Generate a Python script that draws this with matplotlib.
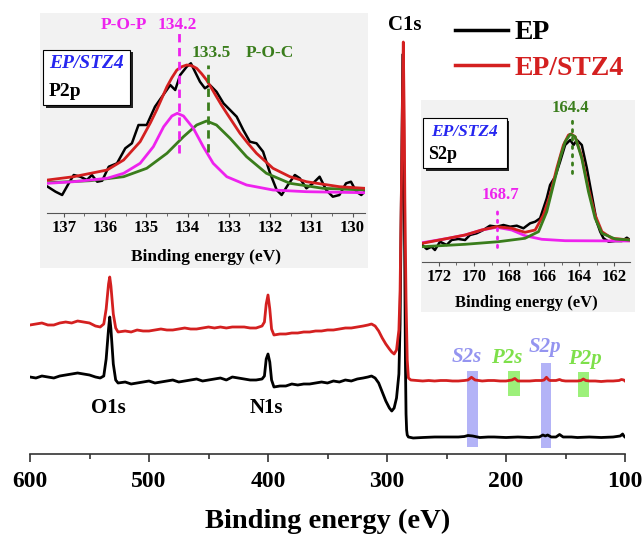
import matplotlib
matplotlib.use("Agg")
import matplotlib.pyplot as plt
from matplotlib.patches import Rectangle
from matplotlib.ticker import MultipleLocator

# ---- survey spectra (binding energy eV, intensity a.u.) ----
be_ep = [600, 595, 590, 585, 580, 575, 570, 565, 560, 555, 550, 545, 541, 538, 536, 534, 533, 532, 530, 528,
         526, 520, 515, 510, 505, 500, 495, 490, 485, 480, 475, 470, 465, 460, 455, 450, 445, 440, 435, 430,
         425, 420, 415, 410, 405, 403, 401.5, 400, 398.5, 397, 395, 390, 385, 380, 375, 370, 365, 360, 355, 350,
         345, 340, 335, 330, 325, 320, 316, 313, 310, 307, 304, 301, 298, 296, 294, 292, 290, 289, 288,
         287, 286.5, 286, 285, 284.5, 284, 283.5, 283, 282, 278, 270, 260, 250, 240, 235, 232, 228, 222, 215, 210, 200,
         190, 180, 172, 169, 167, 165, 162, 158, 155, 152, 145, 140, 130, 120, 110, 104, 102, 101, 100]
int_ep = [77, 76, 78, 77, 76, 78, 79, 80, 81, 80, 79, 77, 76, 78, 95, 125, 137, 125, 90, 74,
          71, 72, 70, 71, 72, 73, 71, 72, 73, 74, 72, 73, 74, 75, 73, 74, 75, 76, 74, 77,
          76, 75, 74, 74, 75, 78, 95, 100, 92, 74, 67, 68, 68, 70, 69, 70, 70, 71, 72, 71,
          73, 72, 74, 73, 75, 76, 77, 78, 76, 71, 62, 53, 46, 43, 46, 56, 80, 130, 250,
          360, 400, 330, 180, 90, 40, 24, 19, 17, 16, 16.5, 17, 17, 17, 17.5, 18.5, 18, 16.5, 17, 17, 16.5,
          17, 16.5, 17, 19, 18, 19, 17, 17, 19.5, 17, 17, 16.5, 17, 16.5, 17, 18, 20, 18, 17]

be_stz = [600, 595, 590, 585, 580, 575, 570, 565, 560, 555, 550, 545, 541, 538, 536, 534, 533, 532, 530, 528,
          526, 520, 515, 510, 505, 500, 495, 490, 485, 480, 475, 470, 465, 460, 455, 450, 445, 440, 435, 430,
          425, 420, 415, 410, 405, 403, 401.5, 400, 398.5, 397, 395, 390, 385, 380, 375, 370, 365, 360, 355, 350,
          345, 340, 335, 330, 325, 320, 316, 313, 310, 307, 304, 301, 298, 296, 294, 292, 290, 289, 288, 287,
          286.3, 285.5, 285, 284, 283, 282, 280, 275, 270, 265, 260, 255, 250, 245, 240, 235, 232, 229, 226, 220,
          215, 210, 205, 200, 195, 192.6, 190, 185, 180, 175, 170, 168, 166, 164, 163, 158, 155, 153, 150, 145,
          140, 137, 135, 133, 130, 125, 120, 115, 110, 105, 103, 101, 100]
int_stz = [129, 130, 131, 129, 129, 131, 132, 131, 133, 132, 131, 128, 127, 130, 145, 170, 177, 168, 140, 126,
           122, 123, 122, 124, 123, 123, 124, 125, 124, 124, 125, 126, 125, 125, 126, 127, 126, 127, 126, 127,
           127, 127, 126, 126, 128, 132, 150, 159, 145, 125, 119, 120, 120, 121, 121, 122, 122, 123, 123, 124,
           124, 125, 126, 126, 127, 128, 129, 130, 128, 123, 116, 110, 105, 102, 100, 104, 124, 164, 254, 354,
           412, 334, 254, 154, 94, 76, 74, 73.5, 73, 73.5, 73, 73.5, 73.5, 73, 73, 73.5, 74, 76.7, 74, 73,
           73.5, 73.5, 73, 73, 74, 75.5, 73, 73, 73, 73.5, 73.5, 74, 76.7, 74, 73.5, 73.5, 74.5, 73.5, 73, 73,
           73, 73.5, 75, 73.5, 73, 73, 72.5, 73, 73, 73.5, 74.5, 74, 73]

# highlighted regions in the survey
band_labels = ["S2s", "P2s", "S2p", "P2p"]
band_lo = [223.6, 188.5, 162.0, 130.5]
band_hi = [233.0, 198.0, 171.0, 139.8]
band_bottom = [7.3, 58.0, 6.3, 56.7]
band_top = [83.3, 83.0, 91.3, 82.3]
band_text_x = [233, 199.4, 167.2, 133.6]
band_text_y = [97, 96, 107, 94.7]

# ---- P2p high resolution (EP/STZ4) ----
p2p_be_raw = [137.39, 137.2, 137.04, 136.88, 136.76, 136.6, 136.44, 136.32, 136.19, 136.07, 135.91, 135.71,
              135.51, 135.35, 135.19, 134.99, 134.79, 134.62, 134.42, 134.3, 134.18, 134.02, 133.92, 133.82,
              133.7, 133.58, 133.46, 133.3, 133.13, 132.97, 132.81, 132.65, 132.49, 132.33, 132.17, 132.0,
              131.84, 131.72, 131.57, 131.4, 131.28, 131.12, 130.96, 130.8, 130.64, 130.48, 130.32, 130.16,
              130.04, 129.91, 129.79, 129.71]
p2p_raw = [26, 21, 17.7, 29.4, 37.7, 36, 32.7, 37.7, 31, 32, 46, 49.4, 64.4, 69.4, 87.7, 87.7, 106, 116,
           127.7, 122.7, 137.7, 146, 149.4, 141, 131, 124.4, 127.7, 121, 109.4, 102.7, 96, 82.7, 71, 69.4,
           61, 39.4, 22.7, 17.7, 27.7, 37.7, 34.4, 24.4, 29.4, 36, 22.7, 16, 17.7, 29.4, 31, 21, 17.7, 21]
p2p_be_fit = [137.39, 136.76, 135.95, 135.55, 135.15, 134.9, 134.75, 134.5, 134.38, 134.26, 134.14, 134.02,
              133.9, 133.78, 133.66, 133.54, 133.42, 133.3, 133.18, 133.05, 132.9, 132.73, 132.53, 132.33,
              131.93, 131.52, 131.12, 130.32, 129.71]
p2p_fit = [32.7, 36, 42.7, 52.7, 71, 90, 102.7, 126, 135, 142.7, 146, 147.7, 147, 144.4, 139, 132.7, 124.5,
           116, 107.7, 99.4, 90, 79.4, 69, 59.4, 44.4, 36, 31, 26, 24.4]
pop_be = [137.39, 136.76, 135.95, 135.55, 135.15, 134.83, 134.58, 134.38, 134.25, 134.1, 133.86, 133.62,
          133.38, 133.05, 132.57, 131.93, 131.12, 129.71]
pop = [29.4, 31, 34.4, 39.4, 49.4, 66, 86, 96.7, 99.4, 96.7, 84.4, 66, 49.4, 36, 27.7, 22.7, 21, 20]
poc_be = [137.39, 136.36, 135.55, 134.99, 134.5, 134.1, 133.78, 133.54, 133.3, 132.97, 132.57, 132.09,
          131.52, 130.72, 129.71]
poc = [30, 32, 36, 44.4, 59.4, 76, 87.7, 91.7, 87.7, 74.4, 56, 39.4, 29.4, 24.4, 22.7]
p2p_peaks = [134.2, 133.5]
p2p_mark_lo = [59.4, 61]
p2p_mark_hi = [179.4, 147.7]

# ---- S2p high resolution (EP/STZ4) ----
s2p_be_raw = [172.95, 172.7, 172.42, 172.23, 171.94, 171.56, 171.28, 170.9, 170.51, 170.23, 169.85, 169.47,
              169.09, 168.7, 168.32, 167.94, 167.56, 167.18, 166.8, 166.51, 166.23, 166.04, 165.85, 165.66,
              165.37, 165.09, 164.8, 164.51, 164.32, 164.13, 163.85, 163.56, 163.28, 163.0, 162.8, 162.61,
              162.32, 161.94, 161.56, 161.28, 161.09]
s2p_raw = [16.7, 12.7, 15, 11.7, 20, 16.7, 21.7, 22.7, 21.7, 26.7, 28.4, 31.7, 36, 35, 36.7, 35, 36, 33.4,
           38.4, 40, 43.4, 53.4, 63.4, 76.7, 85, 100, 116.7, 121.7, 116.7, 121.7, 116.7, 93.4, 66.7, 40, 30,
           23.4, 20, 20.7, 20.7, 24, 21.7]
s2p_be_fit = [172.95, 171.47, 170.51, 169.56, 168.7, 167.85, 167.09, 166.51, 166.04, 165.66, 165.28, 164.9,
              164.61, 164.46, 164.23, 163.85, 163.47, 163.09, 162.7, 162.13, 161.09]
s2p_fit = [18.4, 23.4, 26.7, 31.7, 35, 33.4, 29.4, 31.7, 46.7, 66.7, 93.4, 116.7, 126.7, 127.7, 125, 105,
           73.4, 46.7, 30, 23.4, 21.7]
sox_be = [172.95, 171.47, 170.51, 169.56, 168.7, 167.85, 167.09, 166.13, 164.8, 161.09]
sox = [19, 23.4, 26.7, 31.7, 34.4, 31.7, 26, 22.4, 21, 20.7]
sc_be = [172.95, 170.51, 168.61, 167.09, 166.32, 165.85, 165.47, 165.09, 164.8, 164.51, 164.23, 163.85,
         163.47, 163.09, 162.7, 161.94, 161.09]
sc = [15, 17.4, 20, 23.4, 30, 50, 76.7, 103.4, 120, 127.4, 125, 103.4, 70, 43.4, 28.4, 22.7, 21.7]
s2p_peaks = [164.4, 168.7]
s2p_mark_lo = [88.4, 15]
s2p_mark_hi = [141.7, 55]

RED = "#d42020"
MAG = "#ee22ee"
GRN = "#3a7d1c"
BLUE = "#2626f0"

plt.rcParams["font.family"] = "Liberation Serif"
plt.rcParams["font.weight"] = "bold"
plt.rcParams["axes.labelweight"] = "bold"

W, H = 643, 534


def px_rect(x0, y0, x1, y1):
    return [x0 / W, 1 - y1 / H, (x1 - x0) / W, (y1 - y0) / H]


fig = plt.figure(figsize=(6.43, 5.34), dpi=100)

# ---------------- main survey ----------------
ax = fig.add_axes(px_rect(30, 40, 625, 454))
ax.set_zorder(0)
ax.patch.set_alpha(0)
for lo, hi, b, t, lab, tx, ty in zip(band_lo, band_hi, band_bottom, band_top, band_labels, band_text_x, band_text_y):
    col = "#b3b3f7" if lab.startswith("S") else "#9cf07a"
    tcol = "#9494f0" if lab.startswith("S") else "#7ee04a"
    ax.bar((lo + hi) / 2, t - b, width=hi - lo, bottom=b, color=col, zorder=1)
    ax.text(tx, ty, lab, color=tcol, fontsize=15, style="italic", weight="bold", ha="center", va="center")

ax.plot(be_ep, int_ep, color="black", lw=2, label="EP", zorder=2)
ax.plot(be_stz, int_stz, color=RED, lw=2, label="EP/STZ4", zorder=3)

ax.text(534.2, 45.7, "O1s", fontsize=15, ha="center", va="center")
ax.text(401, 45.7, "N1s", fontsize=15, ha="center", va="center")
ax.text(284.9, 429, "C1s", fontsize=15, ha="center", va="center")

ax.set_xlim(600, 100)
ax.set_ylim(0, 414)
for s in ["left", "right", "top"]:
    ax.spines[s].set_visible(False)
ax.spines["bottom"].set_color("#333333")
ax.spines["bottom"].set_linewidth(1.2)
ax.set_yticks([])
ax.xaxis.set_major_locator(MultipleLocator(100))
ax.xaxis.set_minor_locator(MultipleLocator(50))
ax.tick_params(axis="x", which="major", length=6, width=1.2, color="#333333", labelsize=17, pad=6)
ax.tick_params(axis="x", which="minor", length=3.5, width=1.2, color="#333333")
ax.set_xlabel("Binding energy (eV)", fontsize=20.5)
ax.xaxis.set_label_coords(0.5, (454 - 528) / 414)
ax.xaxis.label.set_va("baseline")

leg = ax.legend(loc="upper left", bbox_to_anchor=(455 / W, 1 - 20 / H), bbox_transform=fig.transFigure,
                frameon=False, fontsize=20, handlelength=1.9, handletextpad=0.25, labelspacing=0.37,
                borderpad=0, borderaxespad=0, labelcolor="linecolor")
for ln in leg.get_lines():
    ln.set_linewidth(2.5)

# ---------------- gray panels, boxes ----------------
for x0, y0, x1, y1 in [(40, 13, 368, 268), (421, 100, 635, 312)]:
    fig.add_artist(Rectangle((x0 / W, 1 - y1 / H), (x1 - x0) / W, (y1 - y0) / H,
                             transform=fig.transFigure, facecolor="#f2f2f2", edgecolor="none", zorder=1))


def label_box(x0, y0, x1, y1, top_fs, bot_text, bot_fs):
    fig.add_artist(Rectangle(((x0 + 2.5) / W, 1 - (y1 + 2.5) / H), (x1 - x0) / W, (y1 - y0) / H,
                             transform=fig.transFigure, facecolor="#222222", edgecolor="none", zorder=5))
    fig.add_artist(Rectangle((x0 / W, 1 - y1 / H), (x1 - x0) / W, (y1 - y0) / H,
                             transform=fig.transFigure, facecolor="white", edgecolor="black", lw=0.8, zorder=6))
    fig.text((x0 + x1) / 2 / W, 1 - (y0 + 13.5) / H, "EP/STZ4", color=BLUE, fontsize=top_fs, style="italic",
             weight="bold", ha="center", va="center", zorder=7)
    fig.text((x0 + 5) / W, 1 - (y1 - 13.5) / H, bot_text, color="black", fontsize=bot_fs, weight="bold",
             ha="left", va="center", zorder=7)


# ---------------- P2p inset ----------------
ax1 = fig.add_axes(px_rect(47.3, 20, 365, 212.7))
ax1.set_zorder(2)
ax1.patch.set_alpha(0)
ax1.plot(p2p_be_raw, p2p_raw, color="black", lw=1.8)
ax1.plot(poc_be, poc, color=GRN, lw=2)
ax1.plot(pop_be, pop, color=MAG, lw=2)
ax1.plot(p2p_be_fit, p2p_fit, color=RED, lw=2)
for pk, lo, hi, col in zip(p2p_peaks, p2p_mark_lo, p2p_mark_hi, [MAG, GRN]):
    ax1.plot([pk, pk], [lo, hi], color=col, lw=2, ls=(0, (3, 2)))
ax1.text(135.55, 187.7, "P-O-P", color=MAG, fontsize=12.5, ha="center", va="center")
ax1.text(134.25, 187.7, "134.2", color=MAG, fontsize=12.5, ha="center", va="center")
ax1.text(133.42, 159.4, "133.5", color=GRN, fontsize=12.5, ha="center", va="center")
ax1.text(132.0, 159.4, "P-O-C", color=GRN, fontsize=12.5, ha="center", va="center")
ax1.set_xlim(137.4, 129.7)
ax1.set_ylim(0, 192.7)
for s in ["left", "right", "top"]:
    ax1.spines[s].set_visible(False)
ax1.spines["bottom"].set_color("#555555")
ax1.set_yticks([])
ax1.xaxis.set_major_locator(MultipleLocator(1))
ax1.xaxis.set_minor_locator(MultipleLocator(0.5))
ax1.tick_params(axis="x", which="major", length=3, color="#555555", labelsize=12, pad=2.5)
ax1.tick_params(axis="x", which="minor", length=2, color="#555555")
ax1.set_xlabel("Binding energy (eV)", fontsize=12.5)
ax1.xaxis.set_label_coords(0.5, (212.7 - 256.7) / 192.7)
ax1.xaxis.label.set_va("center")
label_box(43.3, 50, 130, 105, 14, "P2p", 14)

# ---------------- S2p inset ----------------
ax2 = fig.add_axes(px_rect(422.3, 110, 630, 261.7))
ax2.set_zorder(2)
ax2.patch.set_alpha(0)
ax2.plot(s2p_be_raw, s2p_raw, color="black", lw=1.8)
ax2.plot(sox_be, sox, color=MAG, lw=2)
ax2.plot(s2p_be_fit, s2p_fit, color=RED, lw=2)
ax2.plot(sc_be, sc, color=GRN, lw=2)
for pk, lo, hi, col in zip(s2p_peaks, s2p_mark_lo, s2p_mark_hi, [GRN, MAG]):
    ax2.plot([pk, pk], [lo, hi], color=col, lw=2, ls=(0, (0.8, 2.2)), dash_capstyle="round")
ax2.text(164.5, 153.4, "164.4", color=GRN, fontsize=12, ha="center", va="center")
ax2.text(168.5, 66.7, "168.7", color=MAG, fontsize=12, ha="center", va="center")
ax2.set_xlim(172.95, 161.1)
ax2.set_ylim(0, 151.7)
for s in ["left", "right", "top"]:
    ax2.spines[s].set_visible(False)
ax2.spines["bottom"].set_color("#555555")
ax2.set_yticks([])
ax2.xaxis.set_major_locator(MultipleLocator(2))
ax2.xaxis.set_minor_locator(MultipleLocator(1))
ax2.tick_params(axis="x", which="major", length=3, color="#555555", labelsize=12, pad=2)
ax2.tick_params(axis="x", which="minor", length=2, color="#555555")
ax2.set_xlabel("Binding energy (eV)", fontsize=12)
ax2.xaxis.set_label_coords(0.5, (261.7 - 303.3) / 151.7)
ax2.xaxis.label.set_va("center")
label_box(423.3, 118.3, 506.7, 168.3, 12.5, "S2p", 13)

fig.savefig("out.png", dpi=100)
